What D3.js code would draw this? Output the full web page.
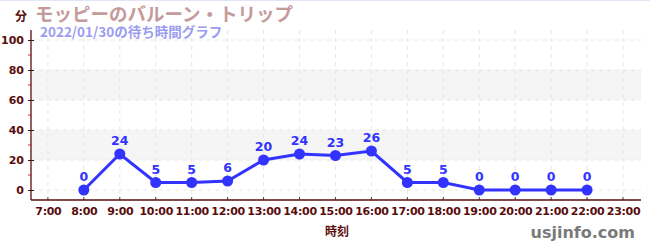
<!DOCTYPE html>
<html>
<head>
<meta charset="UTF-8" />
<style>
  body { margin: 0; padding: 0; background: #fff; font-family: "Noto Sans CJK JP", "DejaVu Sans", sans-serif; }
  svg { display: block; }
  .grid line { stroke: #e6e6e6; stroke-dasharray: 4 4; }
</style>
<title>待ち時間グラフ</title>
</head>
<body>
<svg width="650" height="250"></svg>
<script src="https://d3js.org/d3.v7.min.js"></script>
<script>
  // wait times per hour (minutes)
  const hours = [8, 9, 10, 11, 12, 13, 14, 15, 16, 17, 18, 19, 20, 21, 22];
  const waits = [0, 24, 5, 5, 6, 20, 24, 23, 26, 5, 5, 0, 0, 0, 0];
  const xTicks = [7, 8, 9, 10, 11, 12, 13, 14, 15, 16, 17, 18, 19, 20, 21, 22, 23];
  const yTicks = [0, 20, 40, 60, 80, 100];
  const yMinor = [10, 30, 50, 70, 90];
  const bands = [[20, 40], [60, 80]];

  const svg = d3.select("svg");
  const plotL = 31, plotR = 641, plotT = 30, plotB = 200;

  const x = d3.scaleLinear().domain([6.53, 23.5]).range([plotL, plotR]);
  const y = d3.scaleLinear().domain([0, 100]).range([190, 40]);

  const dark = "#5a0d0d";
  const blue = "#3333ff";

  // top border
  svg.append("line").attr("x1", 0).attr("x2", 650).attr("y1", 0.5).attr("y2", 0.5)
    .attr("stroke", "#e4e4f8");

  // bands
  svg.selectAll(".band").data(bands).enter().append("rect")
    .attr("x", plotL + 1).attr("width", plotR - plotL - 1)
    .attr("y", d => y(d[1])).attr("height", d => y(d[0]) - y(d[1]))
    .attr("fill", "#f5f5f5");

  // grid
  const grid = svg.append("g").attr("class", "grid");
  grid.selectAll(".h").data(yTicks).enter().append("line")
    .attr("x1", plotL).attr("x2", plotR)
    .attr("y1", d => y(d)).attr("y2", d => y(d));
  grid.selectAll(".v").data(xTicks).enter().append("line")
    .attr("x1", d => x(d)).attr("x2", d => x(d))
    .attr("y1", plotT).attr("y2", plotB);

  // y axis
  const yAxis = svg.append("g").attr("transform", `translate(${plotL},0)`)
    .call(d3.axisLeft(y).tickValues(yTicks).tickSize(3).tickPadding(3));
  yAxis.select(".domain").remove();
  yAxis.selectAll(".tick line").attr("x2", 3).attr("x1", -3).attr("stroke", "#222");
  yAxis.selectAll("text").attr("fill", dark).style("font-size", "11px")
    .style("font-family", "'DejaVu Sans', sans-serif").style("font-weight", "bold")
    .attr("dx", -1);
  svg.selectAll(".minor").data(yMinor).enter().append("line")
    .attr("x1", plotL - 3).attr("x2", plotL)
    .attr("y1", d => y(d)).attr("y2", d => y(d))
    .attr("stroke", "#e03030");
  svg.append("line").attr("x1", plotL).attr("x2", plotL).attr("y1", plotT).attr("y2", plotB)
    .attr("stroke", dark).attr("stroke-width", 1.3);

  // x axis
  const xAxis = svg.append("g").attr("transform", `translate(0,${plotB})`)
    .call(d3.axisBottom(x).tickValues(xTicks).tickFormat(d => d + ":00").tickSize(0).tickPadding(7));
  xAxis.select(".domain").remove();
  xAxis.selectAll("text").attr("fill", dark).style("font-size", "11px")
    .style("font-family", "'DejaVu Sans', sans-serif").style("font-weight", "bold")
    .style("letter-spacing", "-0.3px");
  svg.selectAll(".xt").data(xTicks).enter().append("line")
    .attr("x1", d => x(d)).attr("x2", d => x(d))
    .attr("y1", plotB - 3).attr("y2", plotB)
    .attr("stroke", "#444");
  svg.append("line").attr("x1", plotL).attr("x2", plotR).attr("y1", plotB).attr("y2", plotB)
    .attr("stroke", dark).attr("stroke-width", 1.3);

  // series
  const pts = hours.map((h, i) => ({ h, v: waits[i] }));
  svg.append("path").datum(pts)
    .attr("fill", "none").attr("stroke", blue).attr("stroke-width", 3)
    .attr("d", d3.line().x(d => x(d.h)).y(d => y(d.v)));
  svg.selectAll(".pt").data(pts).enter().append("circle")
    .attr("cx", d => x(d.h)).attr("cy", d => y(d.v)).attr("r", 5.5)
    .attr("fill", blue);
  svg.selectAll(".lbl").data(pts).enter().append("text")
    .attr("x", d => x(d.h)).attr("y", d => y(d.v) - 9)
    .attr("text-anchor", "middle").attr("fill", blue)
    .style("font-size", "12.5px").style("font-weight", "bold")
    .style("font-family", "'DejaVu Sans', sans-serif")
    .text(d => d.v);

  // titles
  svg.append("text").attr("x", 15).attr("y", 21).text("分")
    .attr("fill", dark).style("font-size", "12px").style("font-weight", "bold");
  svg.append("text").attr("x", 35).attr("y", 21).text("モッピーのバルーン・トリップ")
    .attr("fill", "#c49a9a").style("font-size", "18.5px").style("font-weight", "bold");
  svg.append("text").attr("x", 40).attr("y", 37).text("2022/01/30の待ち時間グラフ")
    .attr("fill", "#9c9cf0").style("font-size", "13.5px").style("font-weight", "bold");
  svg.append("text").attr("x", 337).attr("y", 236).attr("text-anchor", "middle").text("時刻")
    .attr("fill", dark).style("font-size", "12px").style("font-weight", "bold");
  svg.append("text").attr("x", 635).attr("y", 238).attr("text-anchor", "end").text("usjinfo.com")
    .attr("fill", "#7a7a7a").style("font-size", "16px").style("font-weight", "bold")
    .style("font-family", "'DejaVu Sans', sans-serif");
</script>
</body>
</html>
